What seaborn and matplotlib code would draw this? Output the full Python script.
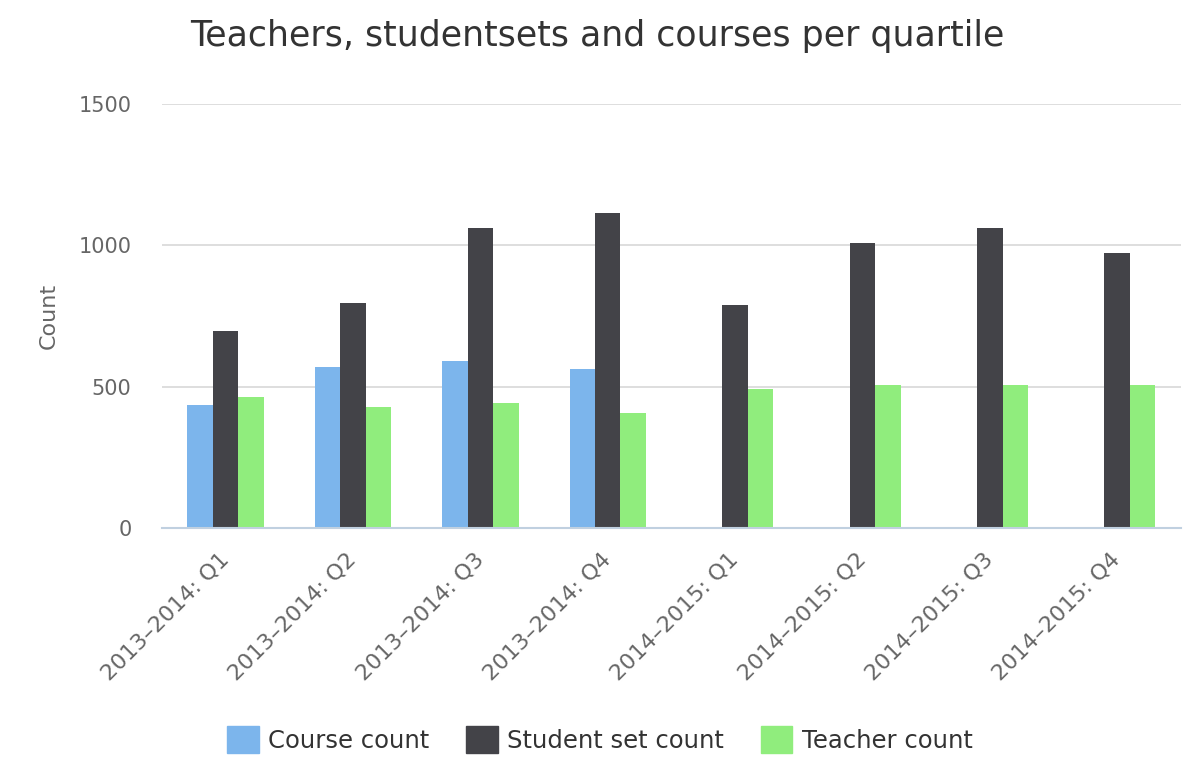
import pandas as pd
import matplotlib
matplotlib.use("Agg")
import matplotlib.pyplot as plt
import seaborn as sns

# Data
quartiles = ["2013–2014: Q1", "2013–2014: Q2", "2013–2014: Q3", "2013–2014: Q4",
             "2014–2015: Q1", "2014–2015: Q2", "2014–2015: Q3", "2014–2015: Q4"]
course_count = [437, 570, 592, 563, 0, 0, 0, 0]
student_set_count = [697, 796, 1063, 1113, 789, 1007, 1063, 972]
teacher_count = [465, 430, 444, 408, 493, 507, 507, 507]

series_names = ["Course count", "Student set count", "Teacher count"]
colors = ["#7cb5ec", "#434348", "#90ed7d"]

df = pd.DataFrame({
    "quartile": quartiles * 3,
    "series": [series_names[0]] * 8 + [series_names[1]] * 8 + [series_names[2]] * 8,
    "value": course_count + student_set_count + teacher_count,
})

sns.set_style("white")
plt.rcParams["font.family"] = ["DejaVu Sans"]

fig = plt.figure(figsize=(12, 7.71), dpi=100)
ax = fig.add_axes([0.135, 0.315, 0.849, 0.55])

sns.barplot(data=df, x="quartile", y="value", hue="series", hue_order=series_names,
            order=quartiles, palette=colors, width=0.6, gap=0, saturation=1,
            edgecolor="none", linewidth=0, ax=ax)

ax.set_xlim(-0.5, 7.5)
ax.set_ylim(0, 1500)
ax.set_yticks([0, 500, 1000, 1500])
ax.yaxis.grid(True, color="#d8d8d8", linewidth=1.2)
ax.set_axisbelow(True)

for s in ["top", "right", "left"]:
    ax.spines[s].set_visible(False)
ax.spines["bottom"].set_color("#c0d0e0")
ax.spines["bottom"].set_linewidth(1.5)

# tick marks sit between categories, labels at centres
ax.set_xticks([i - 0.5 for i in range(9)], minor=True)
ax.tick_params(axis="x", which="minor", length=11, width=1.5, color="#c0d0e0")
ax.tick_params(axis="x", which="major", length=0, pad=20, labelsize=16, labelcolor="#666666")
ax.tick_params(axis="y", length=0, pad=22, labelsize=15, labelcolor="#666666")
plt.setp(ax.get_xticklabels(), rotation=45, ha="right", va="center", rotation_mode="anchor")

ax.set_xlabel("")
ax.set_ylabel("Count", fontsize=16, color="#666666", labelpad=14)

fig.suptitle("Teachers, studentsets and courses per quartile", x=0.498, y=0.975,
             fontsize=25, color="#333333")

ax.legend_.remove()
handles = [plt.Rectangle((0, 0), 1, 1, color=c) for c in colors]
fig.legend(handles, series_names, loc="lower center", bbox_to_anchor=(0.5, -0.005),
           ncol=3, frameon=False, fontsize=17.5, handlelength=1.3, handleheight=1.3,
           handletextpad=0.4, columnspacing=1.5, labelcolor="#333333")

fig.savefig("out.png", dpi=100)
